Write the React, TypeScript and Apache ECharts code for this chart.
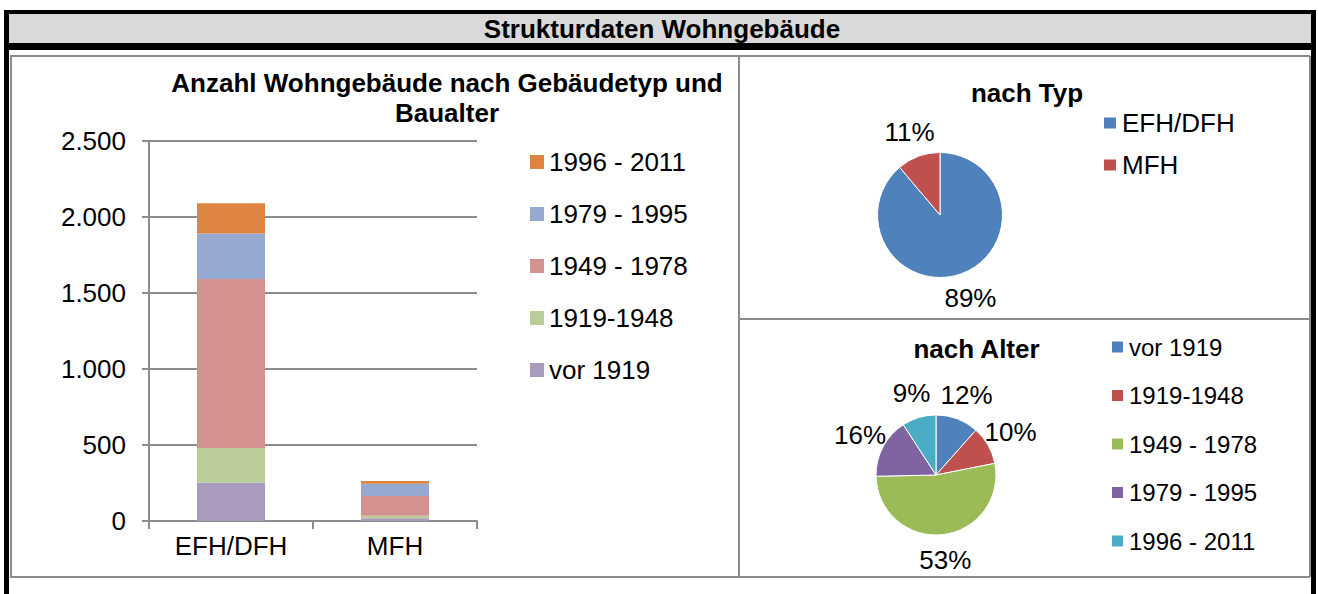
import React, { useEffect, useRef } from "react";
import * as echarts from "echarts";

const FONT = '"Liberation Sans", Arial, Helvetica, sans-serif';
const GREY = "#8c8c8c";

// ---- data ----
const buildingTypes = ["EFH/DFH", "MFH"];
const ageClasses = ["vor 1919", "1919-1948", "1949 - 1978", "1979 - 1995", "1996 - 2011"];
// values per age class: [EFH/DFH, MFH]
const valVor1919 = [254, 18];
const val1919to1948 = [226, 17];
const val1949to1978 = [1112, 130];
const val1979to1995 = [300, 80];
const val1996to2011 = [198, 18];
const ageValues = [valVor1919, val1919to1948, val1949to1978, val1979to1995, val1996to2011];
const yTicks = [0, 500, 1000, 1500, 2000, 2500];

const ageColorsBar = ["#a99bbd", "#bacd97", "#d39290", "#95a9d1", "#dd8540"];
const ageColorsPie = ["#4f81bd", "#c0504d", "#9bbb59", "#8064a2", "#4bacc6"];
const typeColorsPie = ["#4f81bd", "#c0504d"];

// derived totals
const typeTotals = buildingTypes.map((_, t) => ageValues.reduce((s, arr) => s + arr[t], 0));
const ageTotals = ageValues.map((arr) => arr.reduce((s, v) => s + v, 0));

function fmtDE(v: number): string {
  return String(Math.round(v)).replace(/\B(?=(\d{3})+(?!\d))/g, ".");
}

function pieLabelLayout(values: number[], cx: number, cy: number, dist: number) {
  const total = values.reduce((a, b) => a + b, 0);
  const mids: number[] = [];
  let cum = 0;
  values.forEach((v) => {
    mids.push(((cum + v / 2) / total) * Math.PI * 2);
    cum += v;
  });
  return (params: any) => {
    const a = mids[params.dataIndex];
    return {
      x: cx + dist * Math.sin(a),
      y: cy - dist * Math.cos(a),
      align: "center",
      verticalAlign: "middle",
    };
  };
}

const gline = (x1: number, y1: number, x2: number, y2: number) => ({
  type: "line",
  shape: { x1, y1, x2, y2 },
  style: { stroke: GREY, lineWidth: 2 },
  silent: true,
});

const gtext = (text: string, x: number, y: number, size: number, extra: any = {}) => ({
  type: "text",
  x,
  y,
  silent: true,
  style: {
    text,
    fill: "#000",
    fontSize: size,
    fontWeight: "bold",
    fontFamily: FONT,
    align: "center",
    verticalAlign: "middle",
    textAlign: "center",
    textVerticalAlign: "middle",
    ...extra,
  },
});

const TYP_C = [940, 215];
const TYP_R = 62.5;
const ALT_C = [936, 475];
const ALT_R = 60;

export default function App() {
  const ref1 = useRef<HTMLDivElement>(null);
  const ref2 = useRef<HTMLDivElement>(null);

  useEffect(() => {
    const c1 = echarts.init(ref1.current!, null, { renderer: "svg" });
    const c2 = echarts.init(ref2.current!, null, { renderer: "svg" });

    const option1: any = {
      animation: false,
      graphic: {
        elements: [
          gline(10, 56, 1310, 56),
          gline(10, 577, 1310, 577),
          gline(11, 56, 11, 577),
          gline(739, 56, 739, 577),
          gline(1310, 56, 1310, 577),
          gline(739, 319, 1310, 319),
          gtext("Strukturdaten Wohngebäude", 662, 28.5, 26),
          gtext("Anzahl Wohngebäude nach Gebäudetyp und\nBaualter", 447, 98, 26, { lineHeight: 30 }),
          gtext("nach Typ", 1027, 92.5, 26),
        ],
      },
      grid: { left: 149, top: 141, width: 328, height: 380, containLabel: false },
      xAxis: {
        type: "category",
        data: buildingTypes,
        axisLine: { lineStyle: { color: GREY, width: 2 } },
        axisTick: { show: true, length: 8, lineStyle: { color: GREY, width: 2 } },
        axisLabel: { color: "#000", fontSize: 26, fontFamily: FONT, margin: 12 },
        splitLine: { show: false },
      },
      yAxis: {
        type: "value",
        min: yTicks[0],
        max: yTicks[yTicks.length - 1],
        interval: yTicks[1] - yTicks[0],
        axisLine: { show: true, lineStyle: { color: GREY, width: 2 } },
        axisTick: { show: true, length: 7, lineStyle: { color: GREY, width: 2 } },
        axisLabel: { color: "#000", fontSize: 26, fontFamily: FONT, margin: 23, formatter: fmtDE },
        splitLine: { show: true, lineStyle: { color: GREY, width: 2 } },
      },
      legend: [
        {
          orient: "vertical",
          left: 530,
          top: 149,
          padding: 0,
          itemWidth: 14,
          itemHeight: 14,
          itemGap: 26,
          icon: "rect",
          selectedMode: false,
          data: ageClasses.slice().reverse(),
          textStyle: { color: "#000", fontSize: 26, lineHeight: 26, fontFamily: FONT },
        },
        {
          orient: "vertical",
          left: 1102,
          top: 110,
          padding: 0,
          itemWidth: 14,
          itemHeight: 13,
          itemGap: 16,
          icon: "rect",
          selectedMode: false,
          data: buildingTypes,
          textStyle: { color: "#000", fontSize: 26, lineHeight: 26, fontFamily: FONT },
        },
      ],
      series: [
        ...ageClasses.map((name, i) => ({
          type: "bar",
          name,
          stack: "total",
          data: ageValues[i],
          barWidth: "41.5%",
          itemStyle: { color: ageColorsBar[i] },
          emphasis: { disabled: true },
        })),
        {
          type: "pie",
          name: "nach Typ",
          center: TYP_C,
          radius: TYP_R,
          startAngle: 90,
          clockwise: true,
          avoidLabelOverlap: false,
          percentPrecision: 0,
          data: buildingTypes.map((n, i) => ({ name: n, value: typeTotals[i], itemStyle: { color: typeColorsPie[i] } })),
          itemStyle: { borderColor: "#fff", borderWidth: 1 },
          label: { show: true, position: "outside", formatter: "{d}%", color: "#000", fontSize: 26, fontFamily: FONT },
          labelLine: { show: false },
          labelLayout: pieLabelLayout(typeTotals, TYP_C[0], TYP_C[1], TYP_R + 26),
          emphasis: { disabled: true },
        },
      ],
    };

    const option2: any = {
      animation: false,
      graphic: { elements: [gtext("nach Alter", 976.5, 349, 26)] },
      legend: {
        orient: "vertical",
        left: 1110,
        top: 335,
        padding: 0,
        itemWidth: 13,
        itemHeight: 13,
        itemGap: 24.5,
        icon: "rect",
        selectedMode: false,
        data: ageClasses,
        textStyle: { color: "#000", fontSize: 24, lineHeight: 24, fontFamily: FONT },
      },
      series: [
        {
          type: "pie",
          name: "nach Alter",
          center: ALT_C,
          radius: ALT_R,
          startAngle: 90,
          clockwise: true,
          avoidLabelOverlap: false,
          percentPrecision: 0,
          data: ageClasses.map((n, i) => ({ name: n, value: ageTotals[i], itemStyle: { color: ageColorsPie[i] } })),
          itemStyle: { borderColor: "#fff", borderWidth: 1 },
          label: { show: true, position: "outside", formatter: "{d}%", color: "#000", fontSize: 26, fontFamily: FONT },
          labelLine: { show: false },
          labelLayout: pieLabelLayout(ageTotals, ALT_C[0], ALT_C[1], ALT_R + 26),
          emphasis: { disabled: true },
        },
      ],
    };

    c1.setOption(option1);
    c2.setOption(option2);
    return () => {
      c1.dispose();
      c2.dispose();
    };
  }, []);

  const abs = (l: number, t: number, w: number, h: number, bg?: string): React.CSSProperties => ({
    position: "absolute",
    left: l,
    top: t,
    width: w,
    height: h,
    background: bg,
  });

  return (
    <div style={{ ...abs(0, 0, 1318, 594, "#fff"), overflow: "hidden" }}>
      <div style={abs(4, 10, 1312, 600, "#000")} />
      <div style={abs(9, 14, 1302, 29, "#d9d9d9")} />
      <div style={abs(9, 50, 1302, 600, "#fff")} />
      <div ref={ref1} style={abs(0, 0, 1318, 594)} />
      <div ref={ref2} style={{ ...abs(0, 0, 1318, 594), pointerEvents: "none" }} />
    </div>
  );
}
